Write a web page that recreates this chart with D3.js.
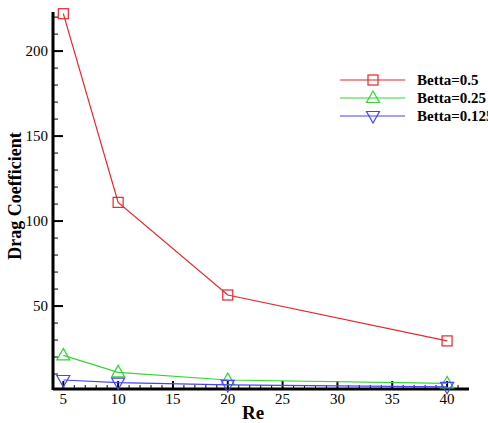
<!DOCTYPE html>
<html lang="en">
<head>
<meta charset="utf-8">
<title>Drag Coefficient vs Re</title>
<script src="https://d3js.org/d3.v7.min.js"></script>
<style>
  body { margin: 0; background: #fff; }
  svg text { font-family: "Liberation Serif", "DejaVu Serif", serif; }
</style>
</head>
<body>
<script>
// data
const re = [5, 10, 20, 40];
const betta05 = [222, 111, 56.5, 29.5];
const betta025 = [21, 11, 6.5, 4.5];
const betta0125 = [6.5, 5, 3.6, 2.5];
const seriesNames = ["Betta=0.5", "Betta=0.25", "Betta=0.125"];
const xTicks = [5, 10, 15, 20, 25, 30, 35, 40];
const yTicks = [50, 100, 150, 200];

const w = 488, h = 423;

const x = d3.scaleLinear().domain([4.06, 42]).range([53, 469]);
const y = d3.scaleLinear().domain([1.2, 223]).range([389, 12]);

const svg = d3.select("body").append("svg")
  .attr("width", w)
  .attr("height", h);

const series = [
  { name: seriesNames[0], values: betta05, color: "#e8262b", marker: "square" },
  { name: seriesNames[1], values: betta025, color: "#33d633", marker: "up" },
  { name: seriesNames[2], values: betta0125, color: "#4545f5", marker: "down" }
];

// minor ticks
const ax = svg.append("g");
ax.selectAll(".xminor")
  .data(d3.range(5, 42, 1).filter(v => v % 5 !== 0))
  .join("line")
  .attr("x1", d => x(d)).attr("x2", d => x(d))
  .attr("y1", y.range()[0]).attr("y2", y.range()[0] - 4)
  .attr("stroke", "#000").attr("stroke-width", 1);
ax.selectAll(".xmajor")
  .data(xTicks)
  .join("line")
  .attr("x1", d => x(d)).attr("x2", d => x(d))
  .attr("y1", y.range()[0]).attr("y2", y.range()[0] - 8)
  .attr("stroke", "#000").attr("stroke-width", 2);
ax.selectAll(".yminor")
  .data(d3.range(10, 221, 10).filter(v => v % 50 !== 0))
  .join("line")
  .attr("x1", x.range()[0]).attr("x2", x.range()[0] + 5)
  .attr("y1", d => y(d)).attr("y2", d => y(d))
  .attr("stroke", "#000").attr("stroke-width", 1);
ax.selectAll(".ymajor")
  .data(yTicks)
  .join("line")
  .attr("x1", x.range()[0]).attr("x2", x.range()[0] + 10)
  .attr("y1", d => y(d)).attr("y2", d => y(d))
  .attr("stroke", "#000").attr("stroke-width", 2);

// axis lines
svg.append("line")
  .attr("x1", x.range()[0]).attr("x2", x.range()[1])
  .attr("y1", y.range()[0]).attr("y2", y.range()[0])
  .attr("stroke", "#000").attr("stroke-width", 3);
svg.append("line")
  .attr("x1", x.range()[0]).attr("x2", x.range()[0])
  .attr("y1", y.range()[0] + 1).attr("y2", y.range()[1])
  .attr("stroke", "#000").attr("stroke-width", 3);

// tick labels
svg.selectAll(".xlab")
  .data(xTicks)
  .join("text")
  .attr("x", d => x(d))
  .attr("y", 404)
  .attr("text-anchor", "middle")
  .attr("font-size", 15)
  .text(d => d);
svg.selectAll(".ylab")
  .data(yTicks)
  .join("text")
  .attr("x", 48)
  .attr("y", d => y(d) + 5)
  .attr("text-anchor", "end")
  .attr("font-size", 15)
  .text(d => d);

// axis titles
svg.append("text")
  .attr("x", 253)
  .attr("y", 419)
  .attr("text-anchor", "middle")
  .attr("font-size", 19)
  .attr("font-weight", "bold")
  .text("Re");
svg.append("text")
  .attr("transform", "translate(21,196) rotate(-90)")
  .attr("text-anchor", "middle")
  .attr("font-size", 18)
  .attr("font-weight", "bold")
  .text("Drag Coefficient");

// markers
function marker(g, type, color) {
  if (type === "square") {
    g.append("rect").attr("x", -5).attr("y", -5).attr("width", 10).attr("height", 10)
      .attr("fill", "none").attr("stroke", color).attr("stroke-width", 1.2);
  } else if (type === "up") {
    g.append("path").attr("d", "M0,-7L6.5,4.5L-6.5,4.5Z")
      .attr("fill", "none").attr("stroke", color).attr("stroke-width", 1.2);
  } else {
    g.append("path").attr("d", "M0,7L6.5,-4.5L-6.5,-4.5Z")
      .attr("fill", "none").attr("stroke", color).attr("stroke-width", 1.2);
  }
}

const line = d3.line().x((d, i) => x(re[i])).y(d => y(d));

series.forEach(s => {
  svg.append("path")
    .attr("d", line(s.values))
    .attr("fill", "none")
    .attr("stroke", s.color)
    .attr("stroke-width", 1.2);
  s.values.forEach((v, i) => {
    const g = svg.append("g").attr("transform", `translate(${x(re[i])},${y(v)})`);
    marker(g, s.marker, s.color);
  });
});

// legend
const legend = svg.append("g");
series.forEach((s, i) => {
  const ly = 80 + i * 18;
  legend.append("line")
    .attr("x1", 340).attr("x2", 405)
    .attr("y1", ly).attr("y2", ly)
    .attr("stroke", s.color).attr("stroke-width", 1.2);
  marker(legend.append("g").attr("transform", `translate(373,${ly})`), s.marker, s.color);
  legend.append("text")
    .attr("x", 417)
    .attr("y", ly + 5)
    .attr("font-size", 15)
    .attr("font-weight", "bold")
    .text(s.name);
});
</script>
</body>
</html>
